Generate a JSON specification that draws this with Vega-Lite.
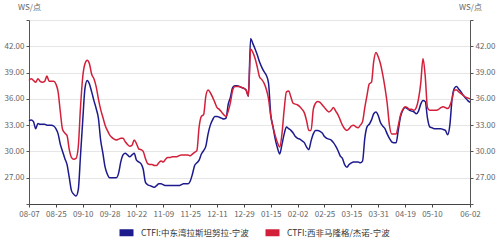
{
"$schema": "https://vega.github.io/schema/vega-lite/v6.json",
"width": 441, "height": 184,
"autosize": {"type": "none"},
"padding": {"left": 29, "top": 20, "right": 30, "bottom": 36},
"background": "white",
"config": {"view": {"stroke": null}, "font": "Noto Sans CJK SC"},
"data": {"values": [
{"d":"08-07","m":33.5,"w":38.1},{"d":"08-10","m":33.6,"w":38.3},{"d":"08-11","m":33.4,"w":38.1},{"d":"08-12","m":32.6,"w":37.9},{"d":"08-13","m":33.2,"w":38.3},{"d":"08-14","m":33.1,"w":38.0},
{"d":"08-17","m":33.1,"w":37.9},{"d":"08-18","m":33.1,"w":38.0},{"d":"08-19","m":33.0,"w":38.6},{"d":"08-20","m":33.0,"w":38.0},{"d":"08-21","m":33.0,"w":38.0},
{"d":"08-24","m":32.9,"w":38.0},{"d":"08-25","m":32.6,"w":37.7},{"d":"08-26","m":32.0,"w":36.8},{"d":"08-27","m":30.8,"w":34.5},{"d":"08-28","m":30.0,"w":32.5},
{"d":"08-31","m":29.2,"w":32.1},{"d":"09-01","m":28.5,"w":31.8},{"d":"09-02","m":27.0,"w":30.2},{"d":"09-03","m":25.5,"w":29.3},{"d":"09-04","m":25.1,"w":29.1},
{"d":"09-07","m":24.9,"w":29.2},{"d":"09-08","m":25.6,"w":30.5},{"d":"09-09","m":29.5,"w":35.0},{"d":"09-10","m":33.5,"w":38.5},{"d":"09-11","m":37.2,"w":40.0},
{"d":"09-14","m":38.1,"w":40.4},{"d":"09-15","m":37.7,"w":40.0},{"d":"09-16","m":36.8,"w":38.8},{"d":"09-17","m":35.8,"w":38.3},{"d":"09-18","m":34.9,"w":37.4},
{"d":"09-21","m":33.8,"w":36.0},{"d":"09-22","m":31.3,"w":34.8},{"d":"09-23","m":29.8,"w":33.9},{"d":"09-24","m":28.2,"w":33.0},{"d":"09-25","m":27.4,"w":32.4},
{"d":"09-28","m":27.0,"w":31.9},{"d":"09-29","m":27.0,"w":31.6},{"d":"09-30","m":27.0,"w":31.4},{"d":"10-09","m":27.0,"w":31.3},
{"d":"10-12","m":27.5,"w":31.4},{"d":"10-13","m":28.8,"w":31.5},{"d":"10-14","m":29.6,"w":31.5},{"d":"10-15","m":29.8,"w":31.1},{"d":"10-16","m":29.6,"w":30.8},
{"d":"10-19","m":29.4,"w":30.6},{"d":"10-20","m":29.6,"w":30.7},{"d":"10-21","m":29.8,"w":31.3},{"d":"10-22","m":29.0,"w":30.9},{"d":"10-23","m":28.8,"w":30.3},
{"d":"10-26","m":28.6,"w":30.2},{"d":"10-27","m":28.0,"w":30.0},{"d":"10-28","m":26.5,"w":29.2},{"d":"10-29","m":26.2,"w":28.6},{"d":"10-30","m":26.1,"w":28.5},
{"d":"11-02","m":26.0,"w":28.5},{"d":"11-03","m":25.9,"w":28.4},{"d":"11-04","m":26.1,"w":28.4},{"d":"11-05","m":26.3,"w":28.7},{"d":"11-06","m":26.3,"w":28.9},
{"d":"11-09","m":26.2,"w":28.8},{"d":"11-10","m":26.1,"w":29.1},{"d":"11-11","m":26.1,"w":29.3},{"d":"11-12","m":26.1,"w":29.3},{"d":"11-13","m":26.1,"w":29.4},
{"d":"11-16","m":26.1,"w":29.4},{"d":"11-17","m":26.1,"w":29.4},{"d":"11-18","m":26.1,"w":29.5},{"d":"11-19","m":26.2,"w":29.6},{"d":"11-20","m":26.3,"w":29.6},
{"d":"11-23","m":26.3,"w":29.6},{"d":"11-24","m":26.3,"w":29.6},{"d":"11-25","m":26.6,"w":29.5},{"d":"11-26","m":27.4,"w":29.7},{"d":"11-27","m":28.4,"w":29.9},
{"d":"11-30","m":28.7,"w":30.1},{"d":"12-01","m":29.0,"w":32.8},{"d":"12-02","m":29.7,"w":34.0},{"d":"12-03","m":30.1,"w":34.2},{"d":"12-04","m":30.6,"w":36.3},
{"d":"12-07","m":32.0,"w":37.0},{"d":"12-08","m":33.0,"w":36.7},{"d":"12-09","m":33.6,"w":36.2},{"d":"12-10","m":34.0,"w":35.6},{"d":"12-11","m":34.0,"w":35.0},
{"d":"12-14","m":33.9,"w":34.8},{"d":"12-15","m":33.8,"w":34.5},{"d":"12-16","m":33.7,"w":34.2},{"d":"12-17","m":33.8,"w":34.0},{"d":"12-18","m":35.4,"w":34.6},
{"d":"12-21","m":36.2,"w":35.6},{"d":"12-22","m":37.3,"w":37.0},{"d":"12-23","m":37.5,"w":37.4},{"d":"12-24","m":37.5,"w":37.4},{"d":"12-25","m":37.4,"w":37.4},
{"d":"12-28","m":37.3,"w":37.3},{"d":"12-29","m":37.2,"w":37.2},{"d":"12-30","m":37.0,"w":37.0},{"d":"12-31","m":36.3,"w":36.3},
{"d":"01-04","m":42.9,"w":41.7},{"d":"01-05","m":42.3,"w":41.3},{"d":"01-06","m":41.7,"w":40.6},{"d":"01-07","m":41.0,"w":39.6},{"d":"01-08","m":40.2,"w":38.5},
{"d":"01-11","m":39.6,"w":38.2},{"d":"01-12","m":39.1,"w":37.8},{"d":"01-13","m":38.7,"w":37.1},{"d":"01-14","m":37.8,"w":36.0},{"d":"01-15","m":34.2,"w":34.0},
{"d":"01-18","m":32.8,"w":32.8},{"d":"01-19","m":31.4,"w":31.8},{"d":"01-20","m":30.4,"w":31.0},{"d":"01-21","m":29.7,"w":30.5},{"d":"01-22","m":30.8,"w":32.0},
{"d":"01-25","m":32.0,"w":34.8},{"d":"01-26","m":32.8,"w":36.8},{"d":"01-27","m":32.6,"w":36.9},{"d":"01-28","m":32.4,"w":36.2},{"d":"01-29","m":32.1,"w":35.5},
{"d":"02-01","m":31.7,"w":35.4},{"d":"02-02","m":31.5,"w":35.3},{"d":"02-03","m":31.4,"w":35.1},{"d":"02-04","m":31.2,"w":34.8},{"d":"02-05","m":31.0,"w":34.4},
{"d":"02-08","m":30.5,"w":33.5},{"d":"02-09","m":30.2,"w":32.4},{"d":"02-10","m":31.2,"w":32.4},{"d":"02-18","m":32.0,"w":34.8},{"d":"02-19","m":32.4,"w":35.5},
{"d":"02-22","m":32.4,"w":35.7},{"d":"02-23","m":32.3,"w":35.6},{"d":"02-24","m":32.1,"w":35.3},{"d":"02-25","m":31.7,"w":35.0},{"d":"02-26","m":31.5,"w":34.7},
{"d":"03-01","m":31.4,"w":34.5},{"d":"03-02","m":31.3,"w":34.7},{"d":"03-03","m":31.0,"w":35.0},{"d":"03-04","m":30.6,"w":34.6},{"d":"03-05","m":30.1,"w":34.2},
{"d":"03-08","m":29.5,"w":33.6},{"d":"03-09","m":29.2,"w":33.0},{"d":"03-10","m":28.5,"w":32.6},{"d":"03-11","m":28.2,"w":32.4},{"d":"03-12","m":28.5,"w":32.6},
{"d":"03-15","m":28.7,"w":32.9},{"d":"03-16","m":28.8,"w":33.0},{"d":"03-17","m":28.8,"w":32.8},{"d":"03-18","m":28.8,"w":32.7},{"d":"03-19","m":28.7,"w":33.0},
{"d":"03-22","m":28.9,"w":33.4},{"d":"03-23","m":31.5,"w":35.0},{"d":"03-24","m":32.8,"w":36.4},{"d":"03-25","m":33.1,"w":37.7},{"d":"03-26","m":33.6,"w":37.9},
{"d":"03-29","m":34.3,"w":40.3},{"d":"03-30","m":34.5,"w":41.3},{"d":"03-31","m":34.1,"w":40.8},{"d":"04-01","m":33.3,"w":40.0},{"d":"04-02","m":32.9,"w":38.8},
{"d":"04-06","m":32.6,"w":37.3},{"d":"04-07","m":32.0,"w":35.5},{"d":"04-08","m":31.5,"w":33.0},{"d":"04-09","m":31.1,"w":32.0},
{"d":"04-12","m":31.0,"w":32.0},{"d":"04-13","m":31.0,"w":32.0},{"d":"04-14","m":32.5,"w":33.0},{"d":"04-15","m":34.0,"w":34.2},{"d":"04-16","m":34.7,"w":34.8},
{"d":"04-19","m":35.0,"w":35.1},{"d":"04-20","m":34.9,"w":35.0},{"d":"04-21","m":34.7,"w":34.8},{"d":"04-22","m":34.6,"w":34.8},{"d":"04-23","m":34.5,"w":34.7},
{"d":"04-26","m":34.3,"w":35.0},{"d":"04-27","m":34.6,"w":36.0},{"d":"04-28","m":35.4,"w":37.8},{"d":"04-29","m":35.8,"w":40.6},{"d":"04-30","m":35.7,"w":38.6},
{"d":"05-06","m":33.8,"w":35.0},{"d":"05-07","m":32.8,"w":34.7},
{"d":"05-10","m":32.7,"w":34.7},{"d":"05-11","m":32.6,"w":34.7},{"d":"05-12","m":32.6,"w":34.7},{"d":"05-13","m":32.6,"w":34.8},{"d":"05-14","m":32.6,"w":35.0},
{"d":"05-17","m":32.5,"w":35.1},{"d":"05-18","m":32.4,"w":35.0},{"d":"05-19","m":31.9,"w":34.9},{"d":"05-20","m":33.0,"w":35.2},{"d":"05-21","m":36.0,"w":36.0},
{"d":"05-24","m":37.2,"w":37.0},{"d":"05-25","m":37.4,"w":37.0},{"d":"05-26","m":37.1,"w":36.8},{"d":"05-27","m":36.8,"w":36.6},{"d":"05-28","m":36.4,"w":36.4},
{"d":"05-31","m":36.1,"w":36.2},{"d":"06-01","m":35.8,"w":36.1},{"d":"06-02","m":35.6,"w":36.0}
]},
"transform": [{"fold": ["m", "w"], "as": ["s", "v"]}],
"layer": [
{
"mark": {"type": "line", "strokeWidth": 1.5, "interpolate": "monotone"},
"encoding": {
"x": {"field": "d", "type": "ordinal", "sort": null, "scale": {"type": "point", "padding": 0.0001},
"axis": {"values": ["08-07","08-25","09-10","09-28","10-22","11-09","11-25","12-11","12-29","01-15","02-02","02-25","03-15","03-31","04-19","05-10","06-02"],
"labelAngle": 0, "labelFontSize": 8, "labelColor": "#666", "tickSize": 3, "tickColor": "#444", "domainColor": "#444", "grid": false, "title": null, "labelPadding": 3, "labelOverlap": false, "labelBound": false, "labelFlush": false, "labelAlign": "center"}},
"y": {"field": "v", "type": "quantitative", "scale": {"domain": [24, 45], "nice": false, "zero": false},
"axis": {"values": [24,27,30,33,36,39,42,45], "labelExpr": "datum.value==24||datum.value==45?'':format(datum.value,'.2f')",
"title": "WS/点", "titleAngle": 0, "titleX": 0, "titleY": -13, "titleAlign": "center", "titleBaseline": "middle", "titleFontSize": 8, "titleFontWeight": "normal", "titleColor": "#666",
"labelFontSize": 8, "labelColor": "#666", "gridColor": "#e6e6e6", "domainColor": "#555", "tickColor": "#555", "tickSize": 3, "labelPadding": 2}},
"color": {"field": "s", "type": "nominal", "scale": {"domain": ["m", "w"], "range": ["#1c1a8c", "#d3203a"]},
"legend": {"orient": "none", "direction": "horizontal", "legendX": 87, "legendY": 202, "title": null,
"labelExpr": "datum.value=='m'?'CTFI:中东湾拉斯坦努拉-宁波':'CTFI:西非马隆格/杰诺-宁波'",
"symbolType": "stroke", "symbolSize": 196, "symbolStrokeWidth": 7, "labelFontSize": 8.5, "labelColor": "#333", "columnPadding": 2, "labelOffset": 4}}
}
},
{
"mark": {"type": "rule", "opacity": 0},
"encoding": {
"y": {"field": "v", "type": "quantitative",
"axis": {"orient": "right", "values": [24,27,30,33,36,39,42,45], "labelExpr": "datum.value==24||datum.value==45?'':format(datum.value,'.2f')",
"title": "WS/点", "titleAngle": 0, "titleX": 0, "titleY": -13, "titleAlign": "center", "titleBaseline": "middle", "titleFontSize": 8, "titleFontWeight": "normal", "titleColor": "#666",
"labelFontSize": 8, "labelColor": "#666", "grid": false, "domainColor": "#555", "tickColor": "#555", "tickSize": 3, "labelPadding": 2}}
}
}
],
"resolve": {"axis": {"y": "independent"}}
}
